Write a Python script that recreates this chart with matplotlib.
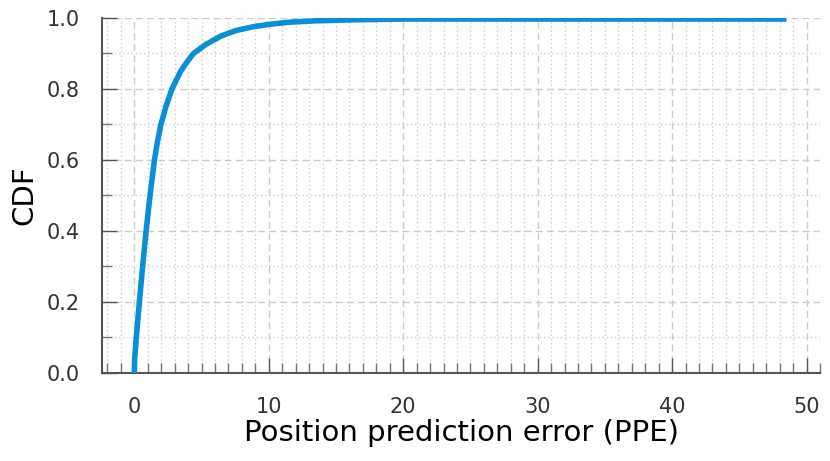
import matplotlib
matplotlib.use("Agg")
import matplotlib.pyplot as plt
from matplotlib.ticker import MultipleLocator

# CDF of position prediction error
ppe = [0, 0.03, 0.15, 0.38, 0.62, 0.88, 1.17, 1.5, 1.72, 1.98, 2.35, 2.8, 3.45,
       3.9, 4.4, 5.3, 6.5, 7.6, 8.8, 10.0, 11.5, 13.5, 16.5, 20.0, 25.0, 30.0, 40.0, 48.5]
cdf = [0, 0.04, 0.1, 0.2, 0.3, 0.4, 0.5, 0.6, 0.65, 0.7, 0.75, 0.8, 0.85,
       0.875, 0.9, 0.925, 0.95, 0.965, 0.975, 0.982, 0.988, 0.992, 0.995, 0.997,
       0.997, 0.997, 0.997, 0.997]

fig = plt.figure(figsize=(8.3, 4.61), dpi=100)
ax = fig.add_axes([0.1229, 0.191, 0.8651, 0.770])

ax.plot(ppe, cdf, color="#0a8fd6", linewidth=4.0, solid_capstyle="butt",
        solid_joinstyle="round", zorder=3)

ax.set_xlim(-2.4, 51.0)
ax.set_ylim(0, 1.0)
ax.xaxis.set_major_locator(MultipleLocator(10))
ax.xaxis.set_minor_locator(MultipleLocator(1))
ax.yaxis.set_major_locator(MultipleLocator(0.2))
ax.yaxis.set_minor_locator(MultipleLocator(0.1))
ax.yaxis.set_major_formatter(plt.FormatStrFormatter("%.1f"))

ax.grid(which="major", color="#cccccc", linestyle=(0, (5, 3)), linewidth=1.0)
ax.grid(which="minor", color="#cccccc", linestyle=(0, (1, 2)), linewidth=1.0)
ax.set_axisbelow(True)

for side in ["top", "right"]:
    ax.spines[side].set_visible(False)
for side in ["left", "bottom"]:
    ax.spines[side].set_color("#555555")
    ax.spines[side].set_linewidth(1.5)

ax.tick_params(which="major", direction="in", length=11, width=1.0, color="#555555",
               labelsize=15, labelcolor="#333333")
ax.tick_params(axis="x", which="major", pad=17)
ax.tick_params(axis="y", which="major", pad=16)
ax.tick_params(which="minor", direction="in", length=7.5, width=1.0, color="#777777")

ax.set_xlabel("Position prediction error (PPE)", fontsize=21, labelpad=2)
ax.set_ylabel("CDF", fontsize=21, labelpad=6)

fig.savefig("out.png", dpi=100)
